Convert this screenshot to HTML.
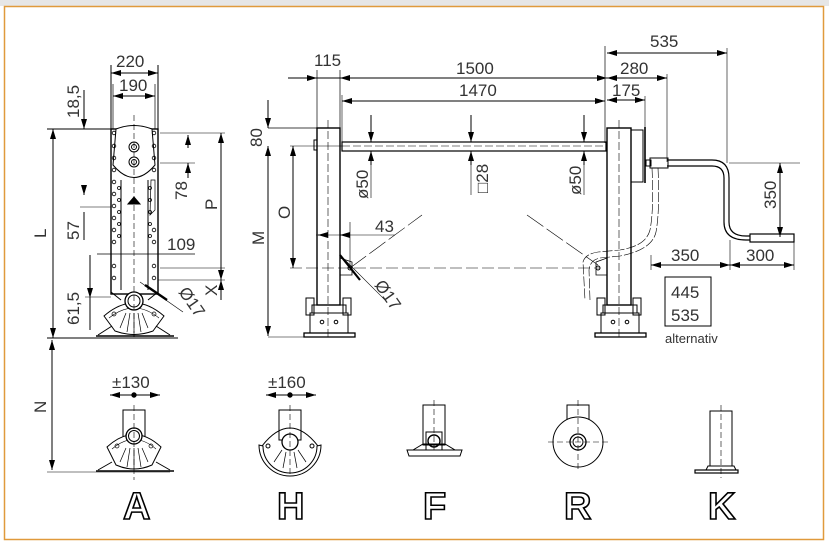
<!DOCTYPE html>
<html><head><meta charset="utf-8"><style>
html,body{margin:0;padding:0;background:#fff;}
svg{display:block;}
text{font-family:"Liberation Sans",sans-serif;fill:#333;}
.d{font-size:17px;font-weight:normal;}
.L{font-size:38px;font-weight:bold;fill:#fff;stroke:#000;stroke-width:1.6px;}
</style></head><body>
<svg width="829" height="542" viewBox="0 0 829 542" xmlns="http://www.w3.org/2000/svg">
<defs>
<marker id="a" viewBox="0 0 10 6" refX="10" refY="3" markerWidth="10" markerHeight="6" orient="auto-start-reverse" markerUnits="userSpaceOnUse"><path d="M0,0 L10,3 L0,6z" fill="#000"/></marker>
</defs>
<rect x="0" y="0" width="829" height="6" fill="#e6e6e6"/>
<rect x="4.5" y="6.5" width="819" height="533" fill="#fff" stroke="#e09a3c" stroke-width="1.5"/>

<g stroke="#000" fill="none" stroke-width="1">
<!-- ===== Left side view ===== -->
<line x1="111" y1="65" x2="111" y2="129"/><line x1="158" y1="65" x2="158" y2="129"/>
<line x1="113" y1="84" x2="113" y2="129" stroke-width=".7"/><line x1="155" y1="84" x2="155" y2="129" stroke-width=".7"/>
<line x1="113" y1="96" x2="155" y2="96" marker-start="url(#a)" marker-end="url(#a)"/>
<line x1="111" y1="73" x2="158" y2="73" marker-start="url(#a)" marker-end="url(#a)"/>
<rect x="111" y="129" width="47" height="165" stroke-width="1.4"/>
<line x1="121" y1="180" x2="121" y2="290"/><line x1="148" y1="180" x2="148" y2="290"/>
<path d="M116,129 Q134,122 152,129 L155,165 Q134,190 113,165z" fill="#fff"/>
<circle cx="134" cy="147" r="5"/><circle cx="134" cy="147" r="2.5"/>
<circle cx="134" cy="162" r="5"/><circle cx="134" cy="162" r="2.5"/>
<g stroke-width=".8">
<circle cx="114" cy="133" r="1.8"/><circle cx="114" cy="146" r="1.8"/><circle cx="114" cy="158" r="1.8"/><circle cx="114" cy="170" r="1.8"/><circle cx="114" cy="182" r="1.8"/><circle cx="114" cy="194" r="1.8"/><circle cx="114" cy="206" r="1.8"/><circle cx="114" cy="218" r="1.8"/><circle cx="114" cy="230" r="1.8"/><circle cx="114" cy="242" r="1.8"/><circle cx="114" cy="266" r="1.8"/><circle cx="114" cy="278" r="1.8"/>
<circle cx="154" cy="133" r="1.8"/><circle cx="154" cy="146" r="1.8"/><circle cx="154" cy="158" r="1.8"/><circle cx="154" cy="170" r="1.8"/><circle cx="154" cy="230" r="1.8"/><circle cx="154" cy="242" r="1.8"/><circle cx="154" cy="266" r="1.8"/><circle cx="154" cy="278" r="1.8"/>
<circle cx="119" cy="188" r="1.5"/><circle cx="119" cy="200" r="1.5"/><circle cx="119" cy="212" r="1.5"/><circle cx="119" cy="224" r="1.5"/><circle cx="119" cy="236" r="1.5"/>
<circle cx="150" cy="188" r="1.5"/><circle cx="150" cy="200" r="1.5"/><circle cx="150" cy="212" r="1.5"/><circle cx="150" cy="224" r="1.5"/><circle cx="150" cy="236" r="1.5"/>
</g>
<path d="M128,204 L134,197 L140,204z" fill="#000"/>
<path d="M151,180 L155,180 L155,210 L150,215z" stroke-width=".7"/>
<line x1="134" y1="115" x2="134" y2="340" stroke-dasharray="6,3" stroke-width=".6"/>
<line x1="97" y1="254" x2="195" y2="254" stroke-width=".8"/>
<path d="M111,254 L111,292 L121,300 M158,254 L158,292 L148,300" stroke-width="1"/>
<!-- fan on side view -->
<path d="M104,316 Q134,290 164,316 L153,331 Q134,338 115,331 z" fill="#fff"/>
<path d="M109,318 Q134,298 159,318" stroke-width=".6"/>
<path d="M120,328 L126,313 M127,332 L130,313 M134,333 L134,313 M141,332 L138,313 M148,328 L142,313" stroke-width=".7"/>
<circle cx="134" cy="301" r="9" fill="#fff" stroke-width="1.3"/><circle cx="134" cy="301" r="6"/>
<circle cx="114" cy="314" r="2" stroke-width=".7"/><circle cx="154" cy="314" r="2" stroke-width=".7"/>
<line x1="134" y1="295" x2="134" y2="340" stroke-dasharray="6,3" stroke-width=".6"/>
<path d="M98,335 L112,326 M170,335 L156,326"/>
<line x1="96" y1="336" x2="174" y2="336" stroke-width="1.4"/>
<line x1="47" y1="338" x2="178" y2="338"/>
<line x1="47" y1="129" x2="111" y2="129"/>
<line x1="53" y1="129" x2="53" y2="338" marker-start="url(#a)" marker-end="url(#a)"/>
<line x1="84" y1="90" x2="84" y2="129" marker-end="url(#a)"/>
<line x1="84" y1="129" x2="95" y2="129"/>
<line x1="84" y1="185" x2="84" y2="195" marker-end="url(#a)"/><line x1="84" y1="212" x2="84" y2="240"/>
<line x1="80" y1="207" x2="111" y2="207" stroke-width=".6"/>
<line x1="90" y1="255" x2="90" y2="298" marker-end="url(#a)"/><line x1="90" y1="298" x2="90" y2="330"/>
<line x1="85" y1="297" x2="111" y2="297" stroke-width=".6"/>
<line x1="160" y1="133" x2="225" y2="133" stroke-width=".6"/>
<line x1="160" y1="163" x2="195" y2="163" stroke-width=".6"/>
<line x1="188" y1="135" x2="188" y2="148" marker-start="url(#a)"/><line x1="188" y1="163" x2="188" y2="178" marker-start="url(#a)"/>
<line x1="221" y1="133" x2="221" y2="280" marker-start="url(#a)" marker-end="url(#a)"/>
<line x1="158" y1="280" x2="225" y2="280" stroke-width=".6"/>
<line x1="160" y1="268" x2="225" y2="268" stroke-width=".6"/>
<line x1="221" y1="280" x2="221" y2="300" marker-start="url(#a)"/>
<line x1="140" y1="282" x2="183" y2="312" stroke-width=".6"/>
<line x1="145" y1="285" x2="167" y2="300" stroke-width="2.4"/>

<!-- ===== Front view ===== -->
<line x1="317" y1="70" x2="317" y2="128" stroke-width=".7"/><line x1="340" y1="70" x2="340" y2="128" stroke-width=".7"/>
<line x1="288" y1="78" x2="317" y2="78" marker-end="url(#a)"/>
<line x1="317" y1="78" x2="340" y2="78"/>
<line x1="340" y1="78" x2="355" y2="78" marker-start="url(#a)"/>
<line x1="355" y1="78" x2="607" y2="78" marker-end="url(#a)"/>
<line x1="342" y1="101" x2="605" y2="101" marker-start="url(#a)" marker-end="url(#a)"/>
<line x1="342" y1="95" x2="342" y2="143" stroke-width=".6"/>
<line x1="605" y1="46" x2="605" y2="143" stroke-width=".7"/>
<rect x="317" y="128" width="23" height="177" stroke-width="1.4"/>
<rect x="314" y="140" width="3" height="10"/>
<line x1="328" y1="120" x2="328" y2="340" stroke-dasharray="8,3" stroke-width=".6"/>
<rect x="342" y="142" width="264" height="9" stroke-width="1.2"/>
<line x1="342" y1="146" x2="606" y2="146" stroke-dasharray="8,3" stroke-width=".6"/>
<line x1="290" y1="146" x2="342" y2="146" stroke-width=".6"/>
<rect x="607" y="128" width="24" height="177" stroke-width="1.4"/>
<line x1="619" y1="120" x2="619" y2="340" stroke-dasharray="8,3" stroke-width=".6"/>
<rect x="631" y="130" width="12" height="52"/><line x1="645" y1="127" x2="645" y2="183" stroke-width="1.6"/>
<g>
<rect x="306" y="298" width="8" height="17"/><rect x="343" y="298" width="8" height="17"/>
<rect x="312" y="305" width="34" height="8"/>
<rect x="310" y="313" width="38" height="20"/>
<circle cx="322" cy="322" r="1.8"/><circle cx="336" cy="322" r="1.8"/>
<rect x="304" y="333" width="51" height="4" stroke-width="1.3"/>
<rect x="597" y="298" width="8" height="17"/><rect x="633" y="298" width="8" height="17"/>
<rect x="603" y="305" width="34" height="8"/>
<rect x="601" y="313" width="38" height="20"/>
<circle cx="613" cy="322" r="1.8"/><circle cx="627" cy="322" r="1.8"/>
<rect x="595" y="333" width="51" height="4" stroke-width="1.3"/>
</g>
<line x1="268" y1="128" x2="317" y2="128" stroke-width=".7"/>
<line x1="268" y1="100" x2="268" y2="128" marker-end="url(#a)"/>
<line x1="268" y1="146" x2="268" y2="336" marker-start="url(#a)" marker-end="url(#a)"/>
<line x1="268" y1="337" x2="304" y2="337" stroke-width=".6"/>
<line x1="293" y1="146" x2="293" y2="268" marker-start="url(#a)" marker-end="url(#a)"/>
<line x1="290" y1="268" x2="600" y2="268" stroke-dasharray="12,4" stroke-width=".6"/>
<path d="M340,258 L352,262 L352,275 L340,275" stroke-width=".8"/>
<circle cx="350" cy="268" r="2"/>
<path d="M607,258 L596,262 L596,275 L607,275" stroke-width=".8"/>
<circle cx="598" cy="268" r="2"/>
<line x1="316" y1="235" x2="395" y2="235" stroke-width=".6"/>
<line x1="328" y1="235" x2="318" y2="235" marker-end="url(#a)"/>
<line x1="350" y1="235" x2="340" y2="235" marker-end="url(#a)"/>
<line x1="350" y1="222" x2="350" y2="268" stroke-width=".6"/>
<line x1="340" y1="255" x2="385" y2="300" stroke-width=".6"/>
<line x1="340" y1="255" x2="360" y2="280" stroke-width="2.2"/>
<line x1="350" y1="268" x2="422" y2="215" stroke-width=".6" stroke-dasharray="20,4"/>
<line x1="527" y1="215" x2="598" y2="265" stroke-width=".6" stroke-dasharray="20,4"/>
<line x1="371" y1="115" x2="371" y2="142" marker-end="url(#a)"/><line x1="371" y1="151" x2="371" y2="165" marker-start="url(#a)"/><line x1="371" y1="165" x2="371" y2="198" stroke-width=".6"/>
<line x1="471" y1="115" x2="471" y2="142" marker-end="url(#a)"/><line x1="471" y1="151" x2="471" y2="165" marker-start="url(#a)"/><line x1="471" y1="165" x2="471" y2="195" stroke-width=".6"/>
<line x1="584" y1="115" x2="584" y2="142" marker-end="url(#a)"/><line x1="584" y1="151" x2="584" y2="165" marker-start="url(#a)"/><line x1="584" y1="165" x2="584" y2="195" stroke-width=".6"/>
<line x1="607" y1="53" x2="727" y2="53" marker-start="url(#a)" marker-end="url(#a)"/>
<line x1="727" y1="48" x2="727" y2="163" stroke-width=".6"/>
<line x1="607" y1="78" x2="667" y2="78" marker-start="url(#a)" marker-end="url(#a)"/>
<line x1="667" y1="74" x2="667" y2="162" stroke-width=".6"/>
<line x1="607" y1="100" x2="645" y2="100" marker-start="url(#a)" marker-end="url(#a)"/>
<line x1="645" y1="96" x2="645" y2="128" stroke-width=".6"/>
<path d="M667,160 L712,160 Q729,160 729,178 L729,222 Q729,236 746,236 L750,236" stroke-width="1.2"/>
<path d="M667,166 L712,166 Q724,166 724,178 L724,222 Q724,240 746,240 L750,240" stroke-width="1.2"/>
<rect x="750" y="234" width="44" height="8" stroke-width="1.2"/>
<rect x="650" y="158" width="18" height="10"/><rect x="646" y="160" width="5" height="6"/>
<path d="M652,168 Q654,210 650,230 Q646,246 620,250 L598,252 Q585,254 583,262 L585,300" stroke-width=".6" stroke-dasharray="10,2"/>
<path d="M658,168 Q660,210 656,232 Q652,250 620,256 L600,258 Q590,260 589,270 L590,300" stroke-width=".6" stroke-dasharray="10,2"/>
<line x1="729" y1="163" x2="800" y2="163" stroke-width=".6"/>
<line x1="780" y1="163" x2="780" y2="237" marker-start="url(#a)" marker-end="url(#a)"/>
<line x1="651" y1="255" x2="651" y2="270" stroke-width=".6"/><line x1="794" y1="242" x2="794" y2="270" stroke-width=".6"/>
<line x1="730" y1="240" x2="730" y2="270" stroke-width=".6"/>
<line x1="651" y1="265" x2="730" y2="265" marker-start="url(#a)" marker-end="url(#a)"/>
<line x1="730" y1="265" x2="794" y2="265" marker-start="url(#a)" marker-end="url(#a)"/>
<rect x="665" y="277" width="46" height="49"/>

<!-- ===== bottom row ===== -->
<line x1="52" y1="340" x2="52" y2="470" marker-start="url(#a)" marker-end="url(#a)"/>
<line x1="47" y1="472" x2="170" y2="472" stroke-width=".6"/>
<line x1="110" y1="395" x2="160" y2="395" marker-start="url(#a)" marker-end="url(#a)"/>
<circle cx="134" cy="395" r="2.2" fill="#000"/>
<rect x="123" y="410" width="22" height="30"/>
<path d="M107,447 Q134,422 161,447 L152,465 Q134,473 116,465 z" fill="#fff"/>
<path d="M112,449 Q134,430 156,449" stroke-width=".6"/>
<path d="M120,462 L126,448 M127,467 L130,448 M134,469 L134,448 M141,467 L138,448 M148,462 L142,448" stroke-width=".7"/>
<circle cx="134" cy="436" r="8" fill="#fff" stroke-width="1.3"/><circle cx="134" cy="436" r="5.5"/>
<circle cx="117" cy="446" r="2" stroke-width=".7"/><circle cx="151" cy="446" r="2" stroke-width=".7"/>
<line x1="134" y1="405" x2="134" y2="480" stroke-dasharray="6,3" stroke-width=".6"/>
<path d="M98,470 L112,462 M170,470 L156,462"/>
<line x1="96" y1="471" x2="174" y2="471" stroke-width="1.4"/>

<line x1="266" y1="395" x2="316" y2="395" marker-start="url(#a)" marker-end="url(#a)"/>
<circle cx="290" cy="395" r="2.2" fill="#000"/>
<rect x="279" y="410" width="22" height="30"/>
<path d="M262,446 Q276,428 290,428 Q304,428 318,446"/>
<path d="M259,445 A31,31 0 0,0 321,445 L317,446 A27,27 0 0,1 263,446z" fill="#fff"/>
<circle cx="290" cy="442" r="8" fill="#fff" stroke-width="1.3"/>
<path d="M274,462 L282,450 M283,468 L286,452 M297,468 L294,452 M306,462 L298,450" stroke-width=".7"/>
<circle cx="268" cy="446" r="2"/><circle cx="312" cy="446" r="2"/>
<line x1="290" y1="405" x2="290" y2="475" stroke-dasharray="6,3" stroke-width=".6"/>

<rect x="423" y="405" width="22" height="40"/>
<rect x="426" y="432" width="16" height="18"/>
<circle cx="434" cy="441" r="6" stroke-width="1.4"/>
<line x1="434" y1="400" x2="434" y2="455" stroke-dasharray="6,3" stroke-width=".6"/>
<path d="M413,450 L423,444 L445,444 L455,450z"/>
<path d="M407,450 L462,450 L460,456 L409,456z" fill="#fff"/>

<rect x="567" y="405" width="22" height="15"/>
<circle cx="578" cy="442" r="25" fill="#fff"/>
<circle cx="578" cy="442" r="8" stroke-width="1.3"/><circle cx="578" cy="442" r="5"/>
<line x1="548" y1="442" x2="608" y2="442" stroke-dasharray="6,3" stroke-width=".6"/>
<line x1="578" y1="400" x2="578" y2="470" stroke-dasharray="6,3" stroke-width=".6"/>

<rect x="710" y="411" width="22" height="55"/>
<line x1="721" y1="405" x2="721" y2="478" stroke-dasharray="6,3" stroke-width=".6"/>
<path d="M708,466 L734,466 L736,470 L706,470z"/>
<rect x="695" y="470" width="43" height="3" stroke-width="1.2"/>
</g>

<text class="d" x="116" y="67">220</text>
<text class="d" x="119" y="91">190</text>
<text class="d" transform="translate(79,118) rotate(-90)">18,5</text>
<text class="d" transform="translate(79,240) rotate(-90)">57</text>
<text class="d" transform="translate(79,325) rotate(-90)">61,5</text>
<text class="d" transform="translate(187,200) rotate(-90)">78</text>
<text class="d" transform="translate(217,210) rotate(-90)">P</text>
<text class="d" transform="translate(217,296) rotate(-90)">X</text>
<text class="d" transform="translate(46,238) rotate(-90)">L</text>
<text class="d" x="167" y="250">109</text>
<text class="d" transform="translate(178,292) rotate(55)">Ø17</text>
<text class="d" x="314" y="66">115</text>
<text class="d" x="456" y="74">1500</text>
<text class="d" x="459" y="96">1470</text>
<text class="d" transform="translate(262,147) rotate(-90)">80</text>
<text class="d" transform="translate(264,245) rotate(-90)">M</text>
<text class="d" transform="translate(290,219) rotate(-90)">O</text>
<text class="d" x="375" y="232">43</text>
<text class="d" transform="translate(374,285) rotate(55)">Ø17</text>
<text class="d" transform="translate(368,199) rotate(-90)">ø50</text>
<text class="d" transform="translate(488,193) rotate(-90)">□28</text>
<text class="d" transform="translate(581,195) rotate(-90)">ø50</text>
<text class="d" x="650" y="47">535</text>
<text class="d" x="620" y="74">280</text>
<text class="d" x="612" y="96">175</text>
<text class="d" transform="translate(776,209) rotate(-90)">350</text>
<text class="d" x="671" y="261">350</text>
<text class="d" x="746" y="261">300</text>
<text class="d" x="671" y="298">445</text>
<text class="d" x="671" y="321">535</text>
<text x="665" y="343" style="font-size:13px;">alternativ</text>
<text class="d" transform="translate(46,413) rotate(-90)">N</text>
<text class="d" x="112" y="388">±130</text>
<text class="d" x="268" y="388">±160</text>
<text class="L" x="123" y="519">A</text>
<text class="L" x="277" y="519">H</text>
<text class="L" x="423" y="519">F</text>
<text class="L" x="564" y="519">R</text>
<text class="L" x="708" y="519">K</text>
</svg>
</body></html>
